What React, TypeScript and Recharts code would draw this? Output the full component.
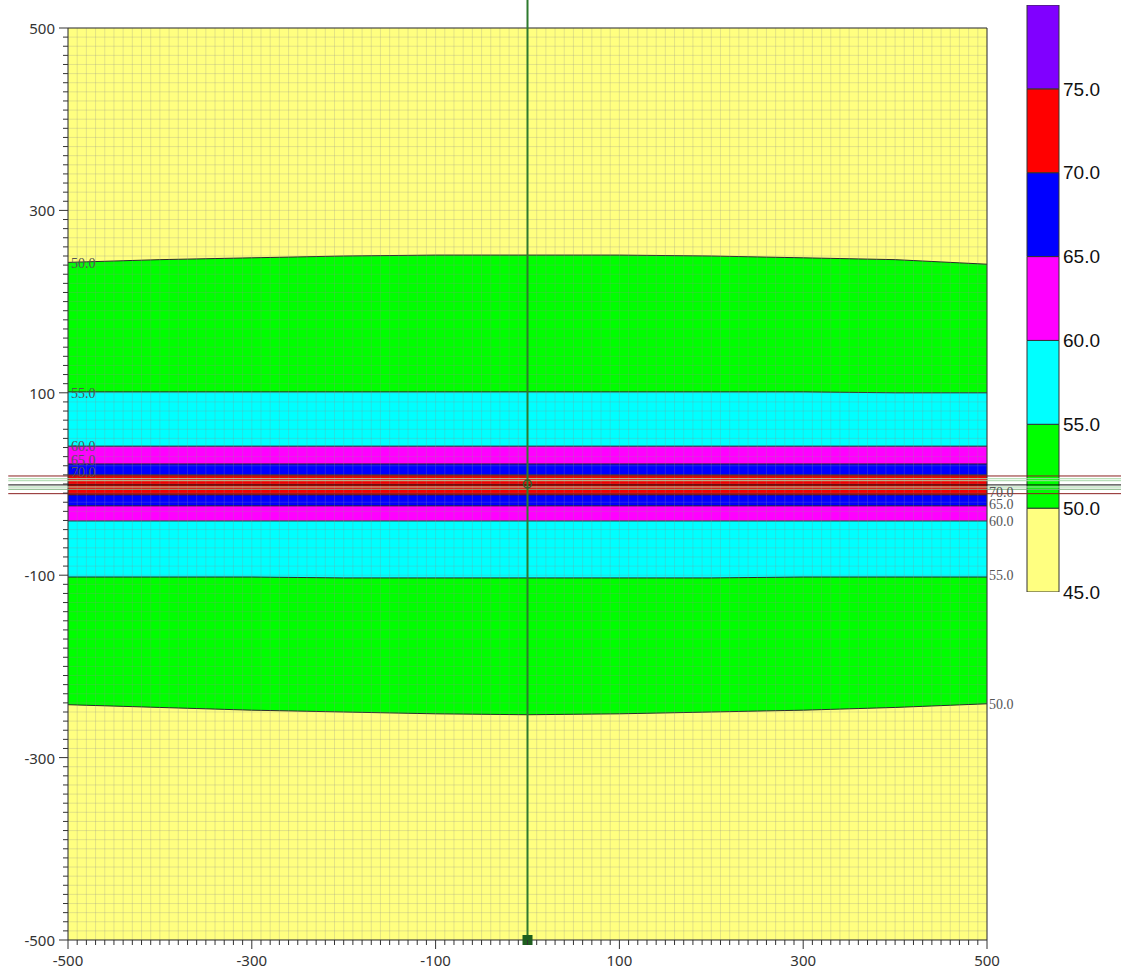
import React from "react";
import {
  ComposedChart,
  BarChart,
  Bar,
  Area,
  XAxis,
  YAxis,
  CartesianGrid,
  ReferenceArea,
  ReferenceLine,
  ReferenceDot,
} from "recharts";

// contour boundaries (y in m) sampled along x
const xs = [-500, -400, -300, -200, -100, 0, 100, 200, 300, 400, 500];
const c50Top = [243, 246, 248, 250, 251, 251, 251, 250, 248, 246, 241];
const c50Bot = [-242, -245, -248, -250, -252, -253, -252, -250, -248, -245, -241];
const c55Top = [101, 101, 101, 101, 101, 101, 101, 101, 101, 100, 100];
const c55Bot = [-102, -102, -102, -103, -103, -103, -103, -103, -102, -102, -102];
const c60Top = [41.5, 41.5, 41.5, 41.5, 41.5, 41.5, 41.5, 41.5, 41.5, 41.5, 41.5];
const c60Bot = [-40.5, -40.5, -40.5, -40.5, -40.5, -40.5, -40.5, -40.5, -40.5, -40.5, -40.5];
const c65Top = [22, 22, 22, 22, 22, 22, 22, 22, 22, 22, 22];
const c65Bot = [-24, -24, -24, -24, -24, -24, -24, -24, -24, -24, -24];
const c70Top = [10, 10, 10, 10, 10, 10, 10, 10, 10, 10, 10];
const c70Bot = [-12, -12, -12, -12, -12, -12, -12, -12, -12, -12, -12];

const bandColors = {
  yellow: "#FFFF80",
  green: "#00FF00",
  cyan: "#00FFFF",
  magenta: "#FF00FF",
  blue: "#0000FF",
  red: "#F00000",
  purple: "#8000FF",
};

// contour labels: left side (upper contours) and right side (lower contours)
const leftLabels = [
  { text: "50.0", y: 242 },
  { text: "55.0", y: 100 },
  { text: "60.0", y: 42 },
  { text: "65.0", y: 26 },
  { text: "70.0", y: 13 },
];
const rightLabels = [
  { text: "70.0", y: -8.5 },
  { text: "65.0", y: -22 },
  { text: "60.0", y: -40.6 },
  { text: "55.0", y: -99.8 },
  { text: "50.0", y: -241 },
];

// road lines
const roadYs = [8.8, 5.8, 3.6, -1, -3.3, -5.8, -10.6];
const roadColors = ["#8B2020", "#A8D8A8", "#A8D8A8", "#111111", "#A8D8A8", "#7FB07F", "#8B2020"];

const axisTicks = Array.from({ length: 101 }, (_, i) => -500 + i * 10);
const tickLabels = [-500, -300, -100, 100, 300, 500];

// colour scale
const colorbarLevels = [45, 50, 55, 60, 65, 70, 75];
const colorbarColors = ["#FFFF80", "#00FF00", "#00FFFF", "#FF00FF", "#0000FF", "#FF0000", "#8000FF"];
const colorbarStep = 5;

const data = xs.map((x, i) => ({
  x,
  green: [c50Bot[i], c50Top[i]],
  cyan: [c55Bot[i], c55Top[i]],
  magenta: [c60Bot[i], c60Top[i]],
  blue: [c65Bot[i], c65Top[i]],
  red: [c70Bot[i], c70Top[i]],
}));

const cbRow: Record<string, number | string> = { name: "scale", base: colorbarLevels[0] };
colorbarLevels.forEach((l) => {
  cbRow["s" + l] = colorbarStep;
});
const cbData = [cbRow];

const tickFont = { fontFamily: "'Noto Sans', sans-serif", fontSize: 15, fill: "#333" };
const contourFont = { fontFamily: "'Liberation Serif', serif", fontSize: 14, fill: "#555" };

function XTick(props: any) {
  const { x, y, payload } = props;
  const major = tickLabels.includes(payload.value);
  return (
    <g>
      <line x1={x} y1={y} x2={x} y2={y + (major ? 9 : 5)} stroke="#333" />
      {major && (
        <text x={x} y={y + 26} textAnchor="middle" {...tickFont}>
          {payload.value}
        </text>
      )}
    </g>
  );
}

function YTick(props: any) {
  const { x, y, payload } = props;
  const major = tickLabels.includes(payload.value);
  return (
    <g>
      <line x1={x - (major ? 9 : 5)} y1={y} x2={x} y2={y} stroke="#333" />
      {major && (
        <text x={x - 13} y={y} textAnchor="end" dominantBaseline="central" {...tickFont}>
          {payload.value}
        </text>
      )}
    </g>
  );
}

const SquareMarker = (props: any) => {
  const { cx, cy } = props;
  return <rect x={cx - 5} y={cy - 5} width={10} height={10} fill="#1E5E1E" />;
};

const bands: [string, string][] = [
  ["green", bandColors.green],
  ["cyan", bandColors.cyan],
  ["magenta", bandColors.magenta],
  ["blue", bandColors.blue],
  ["red", bandColors.red],
];

export default function App() {
  return (
    <div style={{ position: "absolute", left: 0, top: 0, width: 1121, height: 974, background: "#fff" }}>
      <div style={{ position: "absolute", left: 1000, top: 0 }}>
        <BarChart
          width={121}
          height={610}
          data={cbData}
          margin={{ top: 5, right: 0, bottom: 18, left: 27 }}
          barCategoryGap={0}
        >
          <XAxis dataKey="name" hide />
          <YAxis
            orientation="right"
            width={62}
            domain={[45, 80]}
            allowDataOverflow
            ticks={colorbarLevels}
            tickFormatter={(v: number) => v.toFixed(1)}
            tickLine={false}
            axisLine={false}
            tickSize={0}
            tickMargin={4}
            tick={{ fontFamily: "'Liberation Sans', Arial, sans-serif", fontSize: 19, fill: "#111" }}
          />
          <Bar dataKey="base" stackId="cb" fill="none" isAnimationActive={false} />
          {colorbarLevels.map((l, i) => (
            <Bar
              key={l}
              dataKey={"s" + l}
              stackId="cb"
              fill={colorbarColors[i]}
              stroke="#333"
              strokeWidth={1}
              isAnimationActive={false}
            />
          ))}
        </BarChart>
      </div>
      <div style={{ position: "absolute", left: 0, top: 0 }}>
        <ComposedChart width={1121} height={974} data={data} margin={{ top: 28, right: 134, bottom: 0, left: 8 }}>
          <XAxis
            dataKey="x"
            type="number"
            domain={[-500, 500]}
            allowDataOverflow
            ticks={axisTicks}
            interval={0}
            height={34}
            tickLine={false}
            tickSize={0}
            tickMargin={0}
            axisLine={{ stroke: "#333" }}
            tick={(p: any) => <XTick {...p} />}
          />
          <YAxis
            type="number"
            domain={[-500, 500]}
            allowDataOverflow
            ticks={axisTicks}
            interval={0}
            width={60}
            tickLine={false}
            tickSize={0}
            tickMargin={0}
            axisLine={{ stroke: "#333" }}
            tick={(p: any) => <YTick {...p} />}
          />
          <ReferenceArea
            x1={-500}
            x2={500}
            y1={-500}
            y2={500}
            fill={bandColors.yellow}
            fillOpacity={1}
            stroke="none"
            zIndex={-300}
          />
          {bands.map(([key, color]) => (
            <Area
              key={key}
              dataKey={key}
              type="linear"
              fill={color}
              fillOpacity={1}
              stroke="#2a2a2a"
              strokeWidth={1}
              dot={false}
              activeDot={false}
              isAnimationActive={false}
              zIndex={100}
            />
          ))}
          <CartesianGrid stroke="#909090" strokeOpacity={0.25} zIndex={150} />
          <ReferenceLine y={500} stroke="#333" zIndex={1400} />
          <ReferenceLine x={500} stroke="#333" zIndex={1400} />
          {roadYs.map((y, i) => (
            <ReferenceLine
              key={"road" + i}
              segment={[
                { x: -565, y },
                { x: 646, y },
              ]}
              stroke={roadColors[i]}
              strokeWidth={1}
              ifOverflow="visible"
              zIndex={1500}
            />
          ))}
          <ReferenceLine
            segment={[
              { x: 0, y: -500 },
              { x: 0, y: 531 },
            ]}
            stroke="#2E7A2E"
            strokeWidth={2}
            ifOverflow="visible"
            zIndex={1550}
          />
          <ReferenceDot x={0} y={0} r={4} fill="none" stroke="#2F5F2F" strokeWidth={1.5} zIndex={1600} />
          <ReferenceDot x={0} y={-500} r={5} shape={SquareMarker} ifOverflow="visible" zIndex={1600} />
          {leftLabels.map((l, i) => (
            <ReferenceDot
              key={"ll" + i}
              x={-500}
              y={l.y}
              r={0}
              fill="none"
              stroke="none"
              ifOverflow="visible"
              zIndex={2000}
              label={{ value: l.text, position: "right", offset: 3, ...contourFont }}
            />
          ))}
          {rightLabels.map((l, i) => (
            <ReferenceDot
              key={"rl" + i}
              x={500}
              y={l.y}
              r={0}
              fill="none"
              stroke="none"
              ifOverflow="visible"
              zIndex={2000}
              label={{ value: l.text, position: "right", offset: 2, ...contourFont }}
            />
          ))}
        </ComposedChart>
      </div>
    </div>
  );
}
